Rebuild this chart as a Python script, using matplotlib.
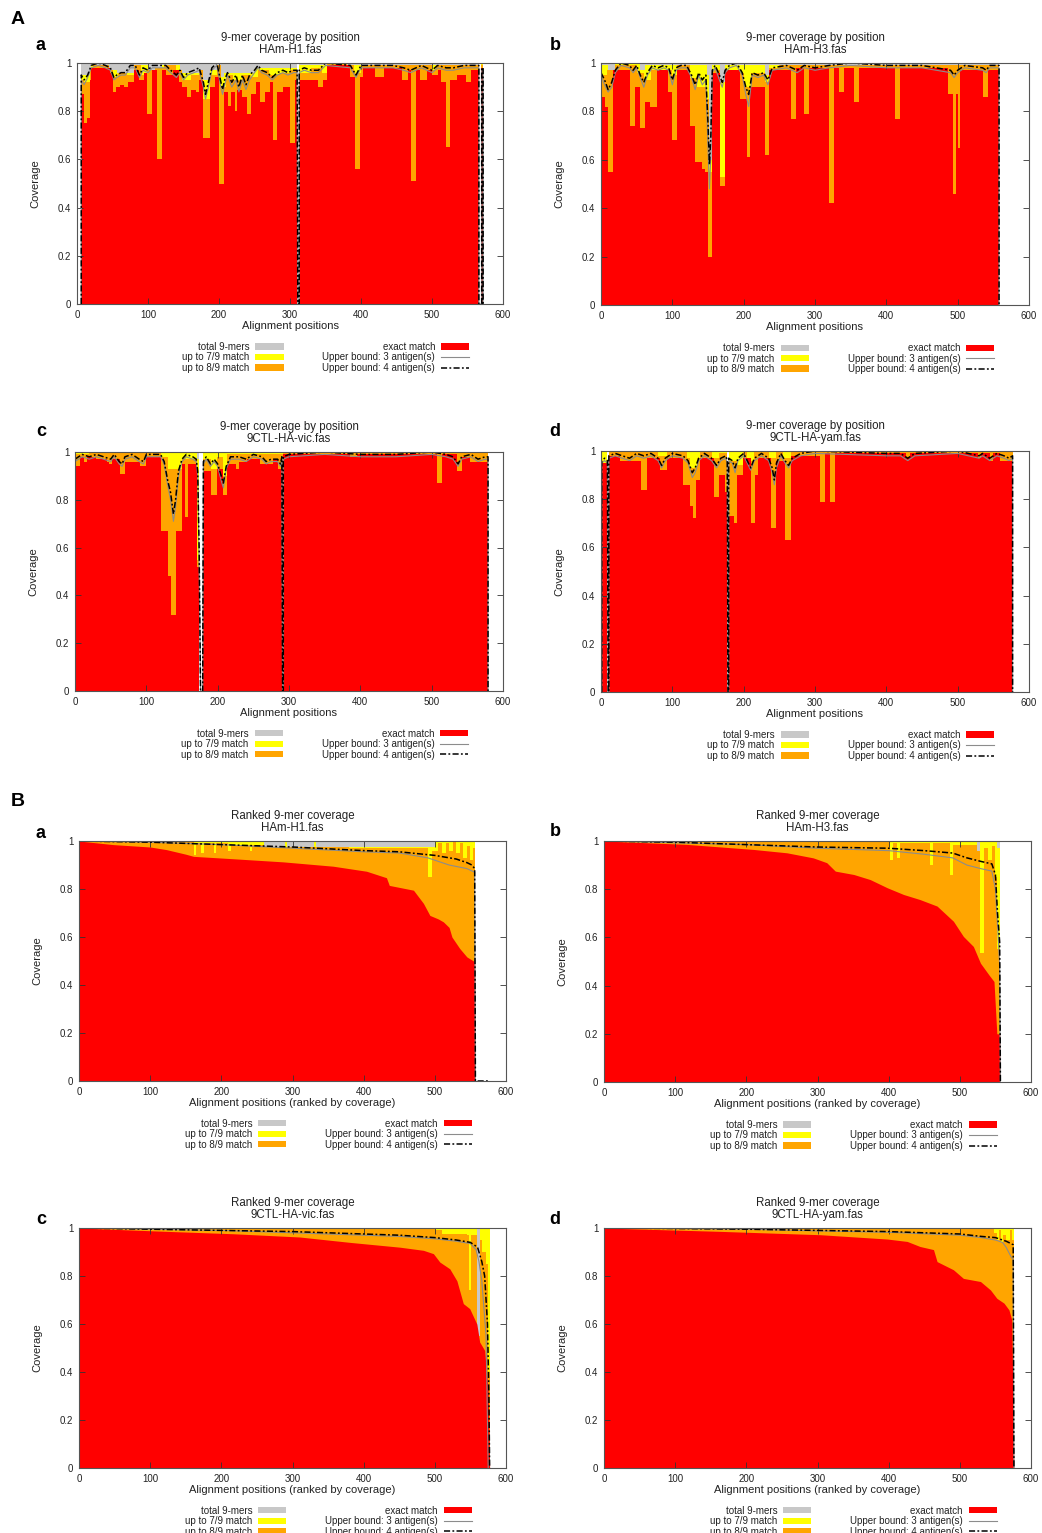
import matplotlib
matplotlib.use('Agg')
import matplotlib.pyplot as plt
from matplotlib.patches import Patch
from matplotlib.lines import Line2D

plt.rcParams['font.family'] = ['Liberation Sans', 'DejaVu Sans']

W, H = 1042, 1533

# ---------------- data (position, value) ----------------
# A-a  HAm-H1, coverage by position
h1_total = [(0, 0), (6, 1.0), (310, 0), (313, 1.0), (566, 0), (569, 1.0), (572, 0)]
h1_yellow = [(0, 0), (6, 0.95), (20, 0.99), (45, 0.97), (56, 0.96), (80, 0.99), (100, 0.97), (120, 0.99),
             (145, 0.96), (178, 0.93), (188, 0.97), (197, 0.99), (200, 0.94), (207, 0.96), (250, 0.98),
             (310, 0), (313, 0.99), (566, 0), (569, 1.0), (572, 0)]
h1_orange = [(0, 0), (6, 0.93), (10, 0.92), (18, 0.97), (22, 0.99), (45, 0.97), (50, 0.94), (58, 0.96),
             (70, 0.95), (80, 0.99), (90, 0.95), (98, 0.97), (110, 0.98), (122, 0.99), (140, 0.97),
             (148, 0.93), (160, 0.95), (172, 0.97), (178, 0.85), (187, 0.95), (197, 0.99), (203, 0.9),
             (210, 0.95), (220, 0.93), (232, 0.95), (245, 0.94), (255, 0.97), (270, 0.95), (285, 0.96),
             (300, 0.97), (310, 0), (313, 0.96), (330, 0.98), (345, 0.96), (352, 1.0), (380, 0.99),
             (390, 0.96), (400, 0.99), (500, 0.97), (505, 0.99), (566, 0), (569, 0.99), (572, 0)]
h1_exact = [(0, 0), (6, 0.87), (10, 0.75), (14, 0.77), (18, 0.93), (20, 0.98), (47, 0.96), (50, 0.88),
            (55, 0.9), (60, 0.91), (66, 0.9), (72, 0.92), (80, 0.97), (88, 0.93), (94, 0.96), (98, 0.79),
            (106, 0.97), (113, 0.6), (120, 0.97), (125, 0.95), (135, 0.97), (143, 0.92), (148, 0.9),
            (155, 0.86), (160, 0.89), (167, 0.88), (172, 0.93), (178, 0.69), (187, 0.9), (195, 0.94),
            (200, 0.5), (207, 0.88), (213, 0.82), (217, 0.88), (222, 0.8), (226, 0.89), (232, 0.86),
            (240, 0.79), (245, 0.87), (252, 0.92), (258, 0.84), (265, 0.88), (272, 0.92), (276, 0.68),
            (282, 0.88), (290, 0.9), (300, 0.67), (307, 0.93), (310, 0), (313, 0.93), (340, 0.9),
            (347, 0.93), (352, 0.99), (385, 0.94), (392, 0.56), (399, 0.94), (403, 0.98), (420, 0.94),
            (432, 0.98), (458, 0.93), (466, 0.97), (471, 0.51), (477, 0.97), (483, 0.93), (493, 0.97),
            (500, 0.95), (508, 0.97), (512, 0.92), (520, 0.65), (526, 0.93), (535, 0.95), (548, 0.92),
            (555, 0.97), (566, 0), (569, 0.98), (572, 0)]
h1_ub3 = [(6, 0), (6, 0.93), (10, 0.91), (15, 0.94), (20, 0.98), (30, 0.99), (40, 0.98), (47, 0.97),
          (52, 0.93), (56, 0.94), (62, 0.95), (68, 0.95), (75, 0.98), (82, 0.98), (88, 0.94), (93, 0.97),
          (100, 0.96), (106, 0.98), (115, 0.98), (125, 0.98), (132, 0.96), (140, 0.94), (145, 0.96),
          (150, 0.93), (156, 0.95), (165, 0.96), (172, 0.97), (178, 0.9), (181, 0.85), (185, 0.9),
          (190, 0.97), (197, 0.99), (202, 0.91), (205, 0.87), (208, 0.91), (212, 0.95), (218, 0.9),
          (224, 0.93), (228, 0.88), (233, 0.93), (238, 0.89), (243, 0.93), (250, 0.96), (255, 0.98),
          (260, 0.96), (268, 0.95), (275, 0.93), (282, 0.95), (290, 0.96), (297, 0.95), (305, 0.96),
          (310, 0.96), (311, 0), (313, 0), (313, 0.96), (320, 0.97), (330, 0.96), (340, 0.96), (350, 0.99),
          (385, 0.98), (393, 0.94), (400, 0.98), (430, 0.98), (445, 0.98), (460, 0.97), (470, 0.96),
          (485, 0.98), (500, 0.96), (508, 0.98), (520, 0.97), (530, 0.97), (545, 0.98), (566, 0.98),
          (566, 0), (570, 0), (570, 0.97), (572, 0.97), (572, 0)]
h1_ub4 = [(6, 0), (6, 0.95), (10, 0.93), (15, 0.95), (20, 0.99), (30, 1.0), (40, 0.99), (47, 0.98),
          (52, 0.94), (56, 0.95), (62, 0.96), (68, 0.96), (75, 0.99), (82, 0.99), (88, 0.95), (93, 0.98),
          (100, 0.97), (106, 0.99), (115, 0.99), (125, 0.99), (132, 0.97), (140, 0.95), (145, 0.97),
          (150, 0.94), (156, 0.96), (165, 0.97), (172, 0.98), (178, 0.92), (181, 0.87), (185, 0.92),
          (190, 0.98), (197, 1.0), (202, 0.93), (205, 0.89), (208, 0.93), (212, 0.96), (218, 0.92),
          (224, 0.95), (228, 0.9), (233, 0.95), (238, 0.91), (243, 0.95), (250, 0.97), (255, 0.99),
          (260, 0.97), (268, 0.96), (275, 0.94), (282, 0.96), (290, 0.97), (297, 0.96), (305, 0.97),
          (310, 0.97), (311, 0), (313, 0), (313, 0.97), (320, 0.98), (330, 0.97), (340, 0.97), (350, 1.0),
          (385, 0.99), (393, 0.95), (400, 0.99), (430, 0.99), (445, 0.99), (460, 0.98), (470, 0.97),
          (485, 0.99), (500, 0.97), (508, 0.99), (520, 0.98), (530, 0.98), (545, 0.99), (566, 0.99),
          (566, 0), (570, 0), (570, 0.98), (572, 0.98), (572, 0)]

# A-b  HAm-H3, coverage by position
h3_total = [(0, 1.0), (558, 0)]
h3_yellow = [(0, 0.99), (10, 0.97), (20, 1.0), (55, 0.97), (62, 0.99), (148, 0.95), (151, 0.6),
             (155, 0.99), (167, 0.92), (174, 0.99), (230, 0.95), (236, 0.99), (558, 0)]
h3_orange = [(0, 0.95), (8, 0.97), (20, 0.99), (50, 0.96), (60, 0.93), (70, 0.97), (100, 0.95),
             (106, 0.99), (125, 0.94), (135, 0.9), (148, 0.85), (151, 0.55), (155, 0.97), (167, 0.53),
             (174, 0.97), (195, 0.96), (200, 0.9), (210, 0.96), (230, 0.92), (236, 0.98), (250, 0.99),
             (558, 0)]
h3_exact = [(0, 0.86), (6, 0.82), (10, 0.55), (17, 0.97), (40, 0.74), (48, 0.9), (55, 0.73), (62, 0.84),
            (69, 0.82), (78, 0.97), (94, 0.88), (99, 0.68), (106, 0.97), (125, 0.74), (132, 0.59),
            (141, 0.56), (146, 0.55), (150, 0.2), (155, 0.96), (167, 0.49), (174, 0.97), (195, 0.85),
            (204, 0.61), (209, 0.9), (230, 0.62), (235, 0.97), (267, 0.77), (274, 0.98), (284, 0.79),
            (291, 0.98), (319, 0.42), (326, 0.98), (333, 0.88), (340, 0.98), (354, 0.84), (361, 0.98),
            (412, 0.77), (419, 0.98), (487, 0.87), (494, 0.46), (498, 0.87), (500, 0.65), (503, 0.97),
            (536, 0.86), (543, 0.97), (558, 0)]
h3_ub3 = [(0, 0.95), (5, 0.91), (10, 0.88), (15, 0.9), (20, 0.96), (28, 0.99), (40, 0.98), (45, 0.96),
          (50, 0.98), (55, 0.94), (60, 0.9), (65, 0.95), (72, 0.98), (80, 0.97), (88, 0.98), (95, 0.97),
          (100, 0.91), (105, 0.97), (112, 0.98), (120, 0.98), (127, 0.94), (132, 0.89), (137, 0.95),
          (142, 0.91), (147, 0.93), (150, 0.65), (152, 0.48), (154, 0.62), (156, 0.96), (160, 0.98),
          (166, 0.93), (170, 0.9), (174, 0.96), (180, 0.98), (190, 0.99), (198, 0.95), (203, 0.87),
          (207, 0.82), (212, 0.95), (220, 0.94), (228, 0.95), (234, 0.91), (240, 0.97), (260, 0.98),
          (275, 0.96), (285, 0.98), (300, 0.97), (320, 0.98), (350, 0.99), (400, 0.98), (450, 0.98),
          (490, 0.96), (495, 0.94), (500, 0.96), (510, 0.98), (535, 0.97), (540, 0.96), (545, 0.98),
          (558, 0.98), (558, 0)]
h3_ub4 = [(0, 0.96), (5, 0.93), (10, 0.89), (15, 0.92), (20, 0.97), (28, 1.0), (40, 0.99), (45, 0.97),
          (50, 0.99), (55, 0.95), (60, 0.92), (65, 0.96), (72, 0.99), (80, 0.98), (88, 0.99), (95, 0.98),
          (100, 0.93), (105, 0.98), (112, 0.99), (120, 0.99), (127, 0.95), (132, 0.91), (137, 0.96),
          (142, 0.93), (147, 0.95), (150, 0.75), (152, 0.58), (154, 0.7), (156, 0.97), (160, 0.99),
          (166, 0.95), (170, 0.92), (174, 0.97), (180, 0.99), (190, 1.0), (198, 0.96), (203, 0.9),
          (207, 0.87), (212, 0.96), (220, 0.95), (228, 0.96), (234, 0.93), (240, 0.98), (260, 0.99),
          (275, 0.97), (285, 0.99), (300, 0.98), (320, 0.99), (350, 1.0), (400, 0.99), (450, 0.99),
          (490, 0.97), (495, 0.95), (500, 0.97), (510, 0.99), (535, 0.98), (540, 0.97), (545, 0.99),
          (558, 0.99), (558, 0)]

# A-c  9CTL-HA-vic, coverage by position
vic_total = [(0, 1.0), (174, 0), (179, 1.0), (291, 0), (292, 1.0), (579, 0)]
vic_yellow = [(0, 1.0), (171, 0.97), (174, 0), (179, 1.0), (291, 0), (292, 1.0), (579, 0)]
vic_orange = [(0, 0.99), (20, 1.0), (121, 0.98), (131, 0.93), (150, 0.97), (171, 0.55), (174, 0),
              (179, 0.97), (191, 0.93), (199, 0.98), (208, 0.9), (213, 0.99), (291, 0), (292, 1.0),
              (579, 0)]
vic_exact = [(0, 0.94), (7, 0.98), (12, 0.96), (17, 0.98), (30, 0.97), (45, 0.96), (48, 0.95), (52, 0.97),
             (63, 0.91), (70, 0.96), (91, 0.94), (100, 0.98), (121, 0.67), (131, 0.48), (135, 0.32),
             (142, 0.67), (150, 0.95), (154, 0.73), (159, 0.95), (171, 0.52), (174, 0), (179, 0.92),
             (191, 0.82), (199, 0.93), (208, 0.82), (213, 0.95), (225, 0.93), (230, 0.96), (241, 0.97),
             (259, 0.95), (278, 0.97), (285, 0.93), (291, 0), (292, 0.99), (385, 0.98), (395, 0.99),
             (507, 0.87), (514, 0.99), (535, 0.92), (542, 0.98), (554, 0.96), (579, 0)]
vic_ub3 = [(0, 0.96), (5, 0.97), (10, 0.98), (20, 0.97), (30, 0.98), (40, 0.97), (50, 0.96), (55, 0.98),
           (62, 0.95), (66, 0.94), (70, 0.97), (80, 0.98), (90, 0.96), (96, 0.95), (100, 0.98), (120, 0.98),
           (125, 0.95), (130, 0.86), (134, 0.8), (138, 0.71), (141, 0.77), (145, 0.9), (150, 0.96),
           (156, 0.98), (165, 0.97), (170, 0.96), (172, 0.9), (174, 0.55), (176, 0), (179, 0), (180, 0.95),
           (184, 0.97), (190, 0.94), (195, 0.96), (200, 0.94), (205, 0.88), (208, 0.85), (212, 0.93),
           (218, 0.97), (230, 0.97), (240, 0.96), (250, 0.98), (262, 0.97), (268, 0.95), (275, 0.96),
           (284, 0.96), (288, 0.94), (290, 0.97), (291, 0), (292, 0), (292, 0.97), (300, 0.98), (350, 0.99),
           (400, 0.98), (450, 0.98), (500, 0.99), (520, 0.98), (530, 0.97), (537, 0.94), (542, 0.97),
           (555, 0.98), (565, 0.96), (575, 0.97), (579, 0.97), (579, 0)]
vic_ub4 = [(0, 0.97), (5, 0.98), (10, 0.99), (20, 0.98), (30, 0.99), (40, 0.98), (50, 0.97), (55, 0.99),
           (62, 0.96), (66, 0.95), (70, 0.98), (80, 0.99), (90, 0.97), (96, 0.96), (100, 0.99), (120, 0.99),
           (125, 0.96), (130, 0.88), (134, 0.83), (138, 0.74), (141, 0.8), (145, 0.92), (150, 0.97),
           (156, 0.99), (165, 0.98), (170, 0.97), (172, 0.92), (174, 0.6), (176, 0), (179, 0), (180, 0.96),
           (184, 0.98), (190, 0.95), (195, 0.97), (200, 0.95), (205, 0.9), (208, 0.87), (212, 0.94),
           (218, 0.98), (230, 0.98), (240, 0.97), (250, 0.99), (262, 0.98), (268, 0.96), (275, 0.97),
           (284, 0.97), (288, 0.95), (290, 0.98), (291, 0), (292, 0), (292, 0.98), (300, 0.99), (350, 1.0),
           (400, 0.99), (450, 0.99), (500, 1.0), (520, 0.99), (530, 0.98), (537, 0.95), (542, 0.98),
           (555, 0.99), (565, 0.97), (575, 0.98), (579, 0.98), (579, 0)]

# A-d  9CTL-HA-yam, coverage by position
yam_total = [(0, 0), (2, 1.0), (9, 0), (11, 1.0), (177, 0), (179, 1.0), (578, 0)]
yam_yellow = [(0, 0), (2, 1.0), (9, 0), (11, 1.0), (177, 0), (179, 1.0), (578, 0)]
yam_orange = [(0, 0), (2, 0.95), (9, 0), (11, 1.0), (80, 0.98), (92, 1.0), (120, 0.97), (125, 0.93),
              (135, 0.97), (139, 1.0), (155, 0.97), (166, 0.99), (177, 0), (179, 0.96), (190, 0.94),
              (199, 1.0), (205, 0.96), (215, 1.0), (235, 0.97), (246, 1.0), (255, 0.97), (267, 1.0),
              (578, 0)]
yam_exact = [(0, 0), (2, 0.95), (9, 0), (11, 0.98), (27, 0.96), (41, 0.96), (56, 0.84), (64, 0.97),
             (83, 0.92), (92, 0.97), (115, 0.86), (125, 0.77), (129, 0.72), (133, 0.88), (139, 0.97),
             (158, 0.81), (166, 0.9), (174, 0.83), (177, 0), (179, 0.73), (186, 0.7), (190, 0.9),
             (199, 0.97), (210, 0.7), (216, 0.9), (220, 0.97), (239, 0.68), (246, 0.96), (258, 0.63),
             (267, 0.98), (307, 0.79), (314, 0.99), (321, 0.79), (328, 0.99), (428, 0.97), (433, 0.99),
             (528, 0.97), (533, 0.99), (545, 0.96), (550, 0.99), (560, 0.96), (578, 0)]
yam_ub3 = [(1, 0), (1, 0.95), (5, 0.96), (9, 0.95), (10, 0), (11, 0), (11, 0.97), (20, 0.98), (30, 0.97),
           (40, 0.96), (50, 0.98), (60, 0.97), (70, 0.98), (80, 0.96), (85, 0.93), (90, 0.96), (100, 0.98),
           (115, 0.97), (122, 0.95), (128, 0.89), (132, 0.91), (137, 0.96), (145, 0.98), (155, 0.96),
           (162, 0.93), (168, 0.96), (175, 0.97), (177, 0.95), (178, 0), (179, 0), (179, 0.96), (184, 0.95),
           (188, 0.91), (192, 0.96), (200, 0.98), (205, 0.95), (210, 0.92), (215, 0.96), (225, 0.98),
           (235, 0.96), (240, 0.91), (243, 0.86), (246, 0.93), (252, 0.98), (258, 0.95), (263, 0.93),
           (268, 0.96), (280, 0.98), (300, 0.99), (400, 0.98), (420, 0.98), (430, 0.96), (440, 0.98),
           (500, 0.99), (530, 0.97), (535, 0.98), (545, 0.96), (555, 0.98), (565, 0.97), (572, 0.96),
           (577, 0.97), (577, 0)]
yam_ub4 = [(1, 0), (1, 0.96), (5, 0.97), (9, 0.96), (10, 0), (11, 0), (11, 0.98), (20, 0.99), (30, 0.98),
           (40, 0.97), (50, 0.99), (60, 0.98), (70, 0.99), (80, 0.97), (85, 0.94), (90, 0.97), (100, 0.99),
           (115, 0.98), (122, 0.96), (128, 0.91), (132, 0.93), (137, 0.97), (145, 0.99), (155, 0.97),
           (162, 0.94), (168, 0.97), (175, 0.98), (177, 0.96), (178, 0), (179, 0), (179, 0.97), (184, 0.96),
           (188, 0.93), (192, 0.97), (200, 0.99), (205, 0.96), (210, 0.93), (215, 0.97), (225, 0.99),
           (235, 0.97), (240, 0.93), (243, 0.88), (246, 0.95), (252, 0.99), (258, 0.96), (263, 0.94),
           (268, 0.97), (280, 0.99), (300, 1.0), (400, 0.99), (420, 0.99), (430, 0.97), (440, 0.99),
           (500, 1.0), (530, 0.98), (535, 0.99), (545, 0.97), (555, 0.99), (565, 0.98), (572, 0.97),
           (577, 0.98), (577, 0)]

# B-a  HAm-H1, ranked
rh1_total = [(0, 1.0), (557, 0)]
rh1_yellow = [(0, 1.0), (260, 0.975), (290, 1.0), (292, 0.975), (330, 1.0), (333, 0.975), (500, 1.0),
              (557, 0)]
rh1_orange = [(0, 1.0), (150, 0.995), (161, 0.94), (165, 0.99), (172, 0.95), (175, 0.99), (190, 0.95),
              (193, 0.99), (210, 0.96), (213, 0.985), (240, 0.96), (243, 0.985), (260, 0.975), (380, 0.97),
              (490, 0.85), (496, 0.96), (505, 0.99), (510, 0.95), (515, 0.99), (520, 0.96), (525, 1.0),
              (530, 0.95), (535, 0.99), (540, 0.93), (545, 0.98), (550, 0.92), (553, 0.97), (556, 0.9),
              (557, 0)]
rh1_exact = [(0, 1.0), (48, 0.985), (100, 0.975), (123, 0.964), (150, 0.945), (161, 0.936), (217, 0.926),
             (287, 0.913), (357, 0.895), (404, 0.874), (432, 0.847), (436, 0.815), (470, 0.795),
             (484, 0.74), (493, 0.69), (505, 0.675), (512, 0.663), (520, 0.64), (524, 0.6), (535, 0.552),
             (545, 0.517), (556, 0.497), (557, 0)]
rh1_ub3 = [(0, 1.0), (100, 0.995), (200, 0.985), (300, 0.97), (400, 0.955), (450, 0.95), (490, 0.93),
           (520, 0.9), (545, 0.885), (556, 0.87), (557, 0)]
rh1_ub4 = [(0, 1.0), (100, 0.995), (200, 0.985), (300, 0.975), (400, 0.96), (450, 0.955), (500, 0.94),
           (530, 0.925), (545, 0.91), (552, 0.9), (556, 0.885), (557, 0), (575, 0)]

# B-b  HAm-H3, ranked
rh3_total = [(0, 1.0), (557, 0)]
rh3_yellow = [(0, 1.0), (524, 0.95), (529, 1.0), (552, 0.97), (557, 0)]
rh3_orange = [(0, 1.0), (400, 0.995), (402, 0.92), (406, 0.99), (412, 0.93), (416, 0.99), (458, 0.9),
              (462, 0.99), (486, 0.86), (490, 0.985), (524, 0.96), (529, 0.535), (534, 0.97), (540, 0.92),
              (545, 0.98), (549, 0.85), (552, 0.55), (557, 0)]
rh3_exact = [(0, 1.0), (116, 0.986), (210, 0.965), (257, 0.951), (294, 0.93), (313, 0.91), (325, 0.875),
             (351, 0.861), (374, 0.84), (398, 0.806), (421, 0.778), (444, 0.757), (468, 0.73), (491, 0.667),
             (505, 0.604), (519, 0.5625), (529, 0.493), (541, 0.444), (548, 0.417), (552, 0.2), (556, 0.2),
             (557, 0)]
rh3_ub3 = [(0, 1.0), (200, 0.985), (300, 0.97), (400, 0.96), (450, 0.945), (490, 0.93), (510, 0.9),
           (530, 0.885), (545, 0.875), (550, 0.8), (554, 0.6), (556, 0.48), (557, 0)]
rh3_ub4 = [(0, 1.0), (100, 0.995), (200, 0.985), (300, 0.975), (400, 0.97), (450, 0.96), (490, 0.95),
           (510, 0.93), (530, 0.915), (545, 0.905), (550, 0.86), (553, 0.7), (556, 0.58), (557, 0)]

# B-c  9CTL-HA-vic, ranked
rvic_total = [(0, 1.0), (577, 0)]
rvic_yellow = [(0, 1.0), (559, 0.55), (563, 1.0), (577, 0)]
rvic_orange = [(0, 1.0), (500, 0.99), (510, 0.975), (545, 0.97), (548, 0.74), (551, 0.97), (559, 0.55),
               (563, 0.95), (566, 0.9), (572, 0.85), (575, 0.4), (577, 0)]
rvic_exact = [(0, 1.0), (123, 0.986), (217, 0.976), (310, 0.9625), (381, 0.94), (451, 0.92), (484, 0.907),
              (498, 0.893), (507, 0.858), (521, 0.83), (531, 0.78), (540, 0.685), (549, 0.664), (559, 0.6),
              (563, 0.525), (570, 0.49), (575, 0.32), (577, 0)]
rvic_ub3 = [(0, 1.0), (200, 0.99), (300, 0.98), (400, 0.97), (450, 0.965), (500, 0.955), (530, 0.945),
            (550, 0.935), (558, 0.91), (562, 0.86), (566, 0.78), (572, 0.55), (575, 0)]
rvic_ub4 = [(0, 1.0), (100, 0.995), (200, 0.99), (300, 0.985), (400, 0.975), (450, 0.97), (500, 0.96),
            (530, 0.95), (550, 0.94), (560, 0.92), (566, 0.86), (570, 0.8), (574, 0.6), (576, 0.3), (577, 0)]

# B-d  9CTL-HA-yam, ranked
ryam_total = [(0, 1.0), (576, 0)]
ryam_yellow = [(0, 1.0), (576, 0)]
ryam_orange = [(0, 1.0), (540, 1.0), (548, 0.98), (552, 0.95), (555, 0.99), (558, 0.94), (561, 0.97),
               (565, 0.95), (570, 0.99), (573, 0.95), (576, 0)]
ryam_exact = [(0, 1.0), (163, 0.986), (304, 0.972), (398, 0.954), (426, 0.944), (444, 0.923), (463, 0.91),
              (468, 0.86), (491, 0.826), (505, 0.79), (529, 0.777), (543, 0.742), (552, 0.707), (562, 0.687),
              (569, 0.659), (573, 0.617), (576, 0)]
ryam_ub3 = [(0, 1.0), (200, 0.995), (300, 0.988), (400, 0.982), (500, 0.97), (530, 0.96), (550, 0.95),
            (560, 0.94), (565, 0.92), (572, 0.88), (575, 0.87), (576, 0)]
ryam_ub4 = [(0, 1.0), (100, 0.998), (200, 0.995), (300, 0.99), (400, 0.985), (450, 0.98), (500, 0.975),
            (530, 0.965), (550, 0.96), (565, 0.945), (572, 0.935), (575, 0.93), (576, 0)]

legend_labels = ['total 9-mers', 'up to 7/9 match', 'up to 8/9 match',
                 'exact match', 'Upper bound: 3 antigen(s)', 'Upper bound: 4 antigen(s)']

RED = '#ff0000'
ORANGE = '#ffa500'
YELLOW = '#ffff00'
GREY = '#c8c8c8'
UB3_COL = '#8c8c8c'
UB4_LS = (0, (4, 1.5, 1.2, 1.5))
TXT = '#222222'


def px(x, y):
    return x / W, 1 - y / H


def draw(box, title, xlabel, total, yellow, orange, exact, ub3, ub4, ranked):
    l, t, r, b = box
    ax = fig.add_axes([l / W, 1 - b / H, (r - l) / W, (b - t) / H])
    for series, col in ((total, GREY), (yellow, YELLOW), (orange, ORANGE)):
        x, y = zip(*series)
        ax.fill_between(x, y, step='post', color=col, lw=0)
    x, y = zip(*exact)
    if ranked:
        ax.fill_between(x, y, color=RED, lw=0)
    else:
        ax.fill_between(x, y, step='post', color=RED, lw=0)
    x, y = zip(*ub3)
    ax.plot(x, y, color=UB3_COL, lw=0.8)
    x, y = zip(*ub4)
    ax.plot(x, y, color='black', lw=1.1, ls=UB4_LS)

    ax.set_xlim(0, 600)
    ax.set_ylim(0, 1)
    ax.set_xticks(range(0, 601, 100))
    ax.set_yticks([0, 0.2, 0.4, 0.6, 0.8, 1])
    ax.set_yticklabels(['0', '0.2', '0.4', '0.6', '0.8', '1'])
    ax.tick_params(direction='in', top=True, right=True, length=4, width=0.6,
                   labelsize=7, pad=4, colors='#333333', labelcolor=TXT)
    for s in ax.spines.values():
        s.set_linewidth(0.8)
        s.set_color('#555555')
    ax.set_title(title, fontsize=8.3, pad=7.5, linespacing=0.95, color=TXT)
    ax.set_xlabel(xlabel, fontsize=8, color=TXT)
    ax.set_ylabel('Coverage', fontsize=8, color=TXT)
    ax.xaxis.set_label_coords(0.5, -0.072)
    ax.yaxis.set_label_coords(-0.085, 0.5)

    handles = [Patch(fc=GREY), Patch(fc=YELLOW), Patch(fc=ORANGE), Patch(fc=RED),
               Line2D([], [], color=UB3_COL, lw=0.8), Line2D([], [], color='black', lw=1.1, ls=UB4_LS)]
    ax.legend(handles, legend_labels, ncol=2, markerfirst=False, loc='upper center',
              bbox_to_anchor=(0.584, -0.137), frameon=False, fontsize=7, handlelength=2.9,
              handleheight=0.6, handletextpad=0.6, columnspacing=4.0, labelspacing=0.05,
              borderpad=0, labelcolor=TXT)
    return ax


fig = plt.figure(figsize=(W / 100, H / 100), dpi=100)

pos_title = '9-mer coverage by position\n'
rank_title = 'Ranked 9-mer coverage\n'
pos_label = 'Alignment positions'
rank_label = 'Alignment positions (ranked by coverage)'

draw((77, 63, 503, 304), pos_title + 'HAm-H1.fas', pos_label,
     h1_total, h1_yellow, h1_orange, h1_exact, h1_ub3, h1_ub4, False)
draw((601, 63, 1029, 305), pos_title + 'HAm-H3.fas', pos_label,
     h3_total, h3_yellow, h3_orange, h3_exact, h3_ub3, h3_ub4, False)
draw((75, 452, 503, 691), pos_title + '9CTL-HA-vic.fas', pos_label,
     vic_total, vic_yellow, vic_orange, vic_exact, vic_ub3, vic_ub4, False)
draw((601, 451, 1029, 692), pos_title + '9CTL-HA-yam.fas', pos_label,
     yam_total, yam_yellow, yam_orange, yam_exact, yam_ub3, yam_ub4, False)
draw((79, 841, 506, 1081), rank_title + 'HAm-H1.fas', rank_label,
     rh1_total, rh1_yellow, rh1_orange, rh1_exact, rh1_ub3, rh1_ub4, True)
draw((604, 841, 1031, 1082), rank_title + 'HAm-H3.fas', rank_label,
     rh3_total, rh3_yellow, rh3_orange, rh3_exact, rh3_ub3, rh3_ub4, True)
draw((79, 1228, 506, 1468), rank_title + '9CTL-HA-vic.fas', rank_label,
     rvic_total, rvic_yellow, rvic_orange, rvic_exact, rvic_ub3, rvic_ub4, True)
draw((604, 1228, 1031, 1468), rank_title + '9CTL-HA-yam.fas', rank_label,
     ryam_total, ryam_yellow, ryam_orange, ryam_exact, ryam_ub3, ryam_ub4, True)

# panel letters
for txt, x, y, size in [('A', 18, 20, 14), ('a', 41, 45, 13), ('b', 555, 45, 13),
                        ('c', 41, 432, 13), ('d', 555, 432, 13),
                        ('B', 18, 801, 14), ('a', 41, 833, 13), ('b', 555, 832, 13),
                        ('c', 41, 1220, 13), ('d', 555, 1219, 13)]:
    fx, fy = px(x, y)
    fig.text(fx, fy, txt, fontsize=size, fontweight='bold', ha='center', va='center',
             family=['Liberation Sans', 'DejaVu Sans'])

fig.savefig('out.png', dpi=100)
